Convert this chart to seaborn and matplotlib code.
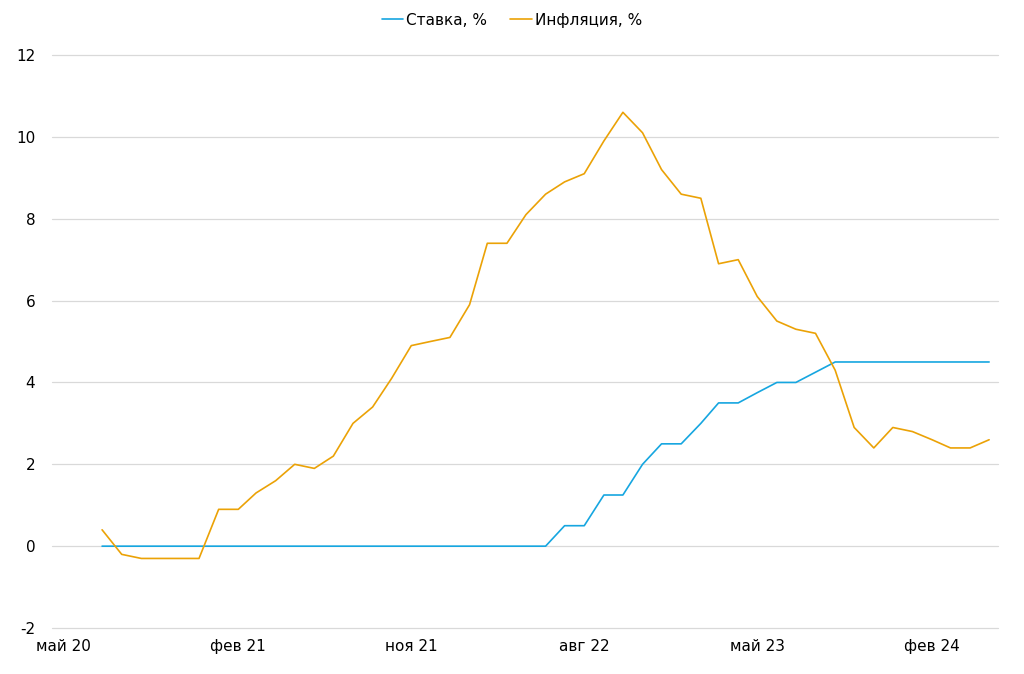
import matplotlib
matplotlib.use("Agg")
import matplotlib.pyplot as plt
import seaborn as sns
import pandas as pd

# ---- data ----
months = pd.date_range("2020-07-01", "2024-05-01", freq="MS")
rate = [0, 0, 0, 0, 0, 0,                                  # 2020 Jul-Dec
        0, 0, 0, 0, 0, 0, 0, 0, 0, 0, 0, 0,                # 2021
        0, 0, 0, 0, 0, 0, 0.5, 0.5, 1.25, 1.25, 2.0, 2.5,  # 2022
        2.5, 3.0, 3.5, 3.5, 3.75, 4.0, 4.0, 4.25, 4.5, 4.5, 4.5, 4.5,  # 2023
        4.5, 4.5, 4.5, 4.5, 4.5]                           # 2024 Jan-May
inflation = [0.4, -0.2, -0.3, -0.3, -0.3, -0.3,
             0.9, 0.9, 1.3, 1.6, 2.0, 1.9, 2.2, 3.0, 3.4, 4.1, 4.9, 5.0,
             5.1, 5.9, 7.4, 7.4, 8.1, 8.6, 8.9, 9.1, 9.9, 10.6, 10.1, 9.2,
             8.6, 8.5, 6.9, 7.0, 6.1, 5.5, 5.3, 5.2, 4.3, 2.9, 2.4, 2.9,
             2.8, 2.6, 2.4, 2.4, 2.6]
series_names = ["Ставка, %", "Инфляция, %"]
tick_dates = pd.to_datetime(["2020-05-01", "2021-02-01", "2021-11-01",
                             "2022-08-01", "2023-05-01", "2024-02-01"])
tick_labels = ["май 20", "фев 21", "ноя 21", "авг 22", "май 23", "фев 24"]
y_ticks = [-2, 0, 2, 4, 6, 8, 10, 12]

df = pd.DataFrame({
    "date": list(months) * 2,
    "value": rate + inflation,
    "series": [series_names[0]] * len(months) + [series_names[1]] * len(months),
})

sns.set_theme(style="white")
plt.rcParams["font.family"] = ["DejaVu Sans"]

fig = plt.figure(figsize=(10.24, 6.74), dpi=100)
ax = fig.add_axes([0.0508, 0.0682, 0.9238, 0.8502])

palette = {series_names[0]: "#16A6E0", series_names[1]: "#EBA206"}
sns.lineplot(data=df, x="date", y="value", hue="series", palette=palette,
             hue_order=series_names, linewidth=1.2, ax=ax, legend=True)

ax.set_ylim(-2, 12)
ax.set_yticks(y_ticks)
ax.set_yticklabels([str(v) for v in y_ticks])
ax.set_xlim(pd.Timestamp("2020-04-13"), pd.Timestamp("2024-05-15"))
ax.set_xticks(tick_dates)
ax.set_xticklabels(tick_labels)
ax.tick_params(axis="both", length=0, labelsize=11, colors="#000000")
ax.tick_params(axis="y", pad=12)
ax.tick_params(axis="x", pad=8)
ax.grid(axis="y", color="#D9D9D9", linewidth=0.9)
ax.grid(axis="x", visible=False)
ax.set_axisbelow(True)
for gl in ax.get_ygridlines():
    gl.set_clip_on(False)
for s in ax.spines.values():
    s.set_visible(False)
ax.set_xlabel("")
ax.set_ylabel("")

ax.legend_.remove()
handles, labels = ax.get_legend_handles_labels()
leg = fig.legend(handles, labels, loc="center", bbox_to_anchor=(0.5, 0.97), ncol=2,
                 frameon=False, fontsize=11, handlelength=1.4, handletextpad=0.2,
                 columnspacing=1.5)
for t in leg.get_texts():
    t.set_color("#000000")

fig.savefig("out.png", dpi=100)
